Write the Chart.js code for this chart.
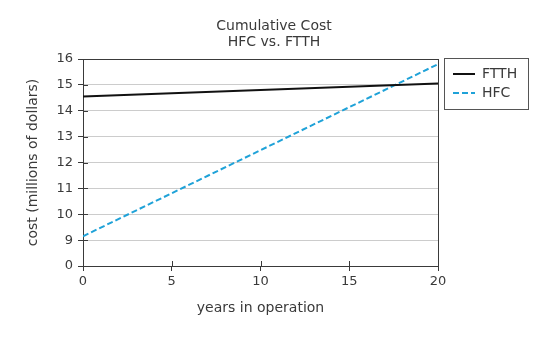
<!DOCTYPE html>
<html>
<head>
<meta charset="utf-8">
<script src="https://cdn.jsdelivr.net/npm/chart.js@4.4.0/dist/chart.umd.min.js"></script>
<style>
  html, body { margin: 0; padding: 0; background: #fff; }
  #wrap { width: 542px; height: 341px; }
</style>
</head>
<body>
<div id="wrap"><canvas id="costChart" width="542" height="341"></canvas></div>
<script>
// values
const years = [0, 20];
const ftth = [14.55, 15.05];
const hfc = [9.15, 15.8];
const seriesNames = ['FTTH', 'HFC'];
const titleLines = ['Cumulative Cost', 'HFC vs. FTTH'];

// the axis has a break: the bottom tick (8) is labelled 0
const yMin = 8;
const yMax = 16;

const ink = '#3a3a3a';
const hfcBlue = '#1fa2d8';
const fontName = '"DejaVu Sans", Verdana, sans-serif';

Chart.defaults.font.family = fontName;
Chart.defaults.font.size = 13;
Chart.defaults.color = ink;

function toPoints(xs, ys) {
  return xs.map((x, i) => ({ x: x, y: ys[i] }));
}

// title centred on the page, small tick marks that poke into the plot,
// and a boxed legend on the right
const extras = {
  id: 'extras',
  afterDraw(chart) {
    const c = chart.ctx;
    const area = chart.chartArea;
    const xs = chart.scales.x;
    const ys = chart.scales.y;
    c.save();

    c.fillStyle = ink;
    c.font = '14px ' + fontName;
    c.textAlign = 'center';
    c.textBaseline = 'alphabetic';
    titleLines.forEach((t, i) => c.fillText(t, 274, 30 + i * 16));

    c.strokeStyle = ink;
    c.lineWidth = 1;
    c.beginPath();
    ys.ticks.forEach(t => {
      if (t.value === yMin) return;
      const py = Math.round(ys.getPixelForValue(t.value)) + 0.5;
      c.moveTo(area.left, py);
      c.lineTo(area.left + 5, py);
    });
    xs.ticks.forEach(t => {
      if (t.value === 0 || t.value === 20) return;
      const px = Math.round(xs.getPixelForValue(t.value)) + 0.5;
      c.moveTo(px, area.bottom);
      c.lineTo(px, area.bottom - 5);
    });
    c.stroke();

    // legend
    c.strokeStyle = '#555';
    c.strokeRect(444.5, 58.5, 84, 51);
    c.textAlign = 'left';
    c.textBaseline = 'middle';
    chart.data.datasets.forEach((ds, i) => {
      const y = 74 + i * 19;
      c.beginPath();
      c.strokeStyle = ds.borderColor;
      c.lineWidth = ds.borderWidth;
      c.setLineDash(ds.borderDash || []);
      c.moveTo(453, y);
      c.lineTo(475, y);
      c.stroke();
      c.setLineDash([]);
      c.fillStyle = ink;
      c.fillText(ds.label, 482, y);
    });
    c.restore();
  }
};

const ctx = document.getElementById('costChart').getContext('2d');
const costChart = new Chart(ctx, {
  type: 'line',
  data: {
    datasets: [
      {
        label: seriesNames[0],
        data: toPoints(years, ftth),
        borderColor: '#111',
        borderWidth: 2,
        pointRadius: 0,
        fill: false
      },
      {
        label: seriesNames[1],
        data: toPoints(years, hfc),
        borderColor: hfcBlue,
        borderWidth: 2,
        borderDash: [6, 3],
        pointRadius: 0,
        fill: false
      }
    ]
  },
  options: {
    responsive: false,
    animation: false,
    layout: { padding: { left: 0, right: 104, top: 59, bottom: 0 } },
    plugins: {
      legend: { display: false },
      tooltip: { enabled: false },
      title: { display: false }
    },
    scales: {
      x: {
        type: 'linear',
        min: 0,
        max: 20,
        ticks: { stepSize: 5, padding: 3, color: ink },
        grid: {
          color: c => (c.tick && c.tick.value === 20 ? ink : 'transparent'),
          tickColor: ink,
          tickLength: 5
        },
        border: { color: ink },
        title: {
          display: true,
          text: 'years in operation',
          color: ink,
          font: { size: 14 },
          padding: { top: 0, bottom: 24 }
        },
        afterFit: s => { s.height = 75; }
      },
      y: {
        type: 'linear',
        min: yMin,
        max: yMax,
        ticks: {
          stepSize: 1,
          padding: 5,
          color: ink,
          callback: v => (v === yMin ? '0' : v)
        },
        grid: {
          color: c => {
            if (!c.tick) return 'transparent';
            if (c.tick.value === yMax) return ink;
            if (c.tick.value === yMin) return 'transparent';
            return '#cccccc';
          },
          tickColor: ink,
          tickLength: 5
        },
        border: { color: ink },
        title: {
          display: true,
          text: 'cost (millions of dollars)',
          color: ink,
          font: { size: 14 },
          padding: { top: 25, bottom: 0 }
        },
        afterFit: s => { s.width = 83; }
      }
    }
  },
  plugins: [extras]
});
</script>
</body>
</html>
